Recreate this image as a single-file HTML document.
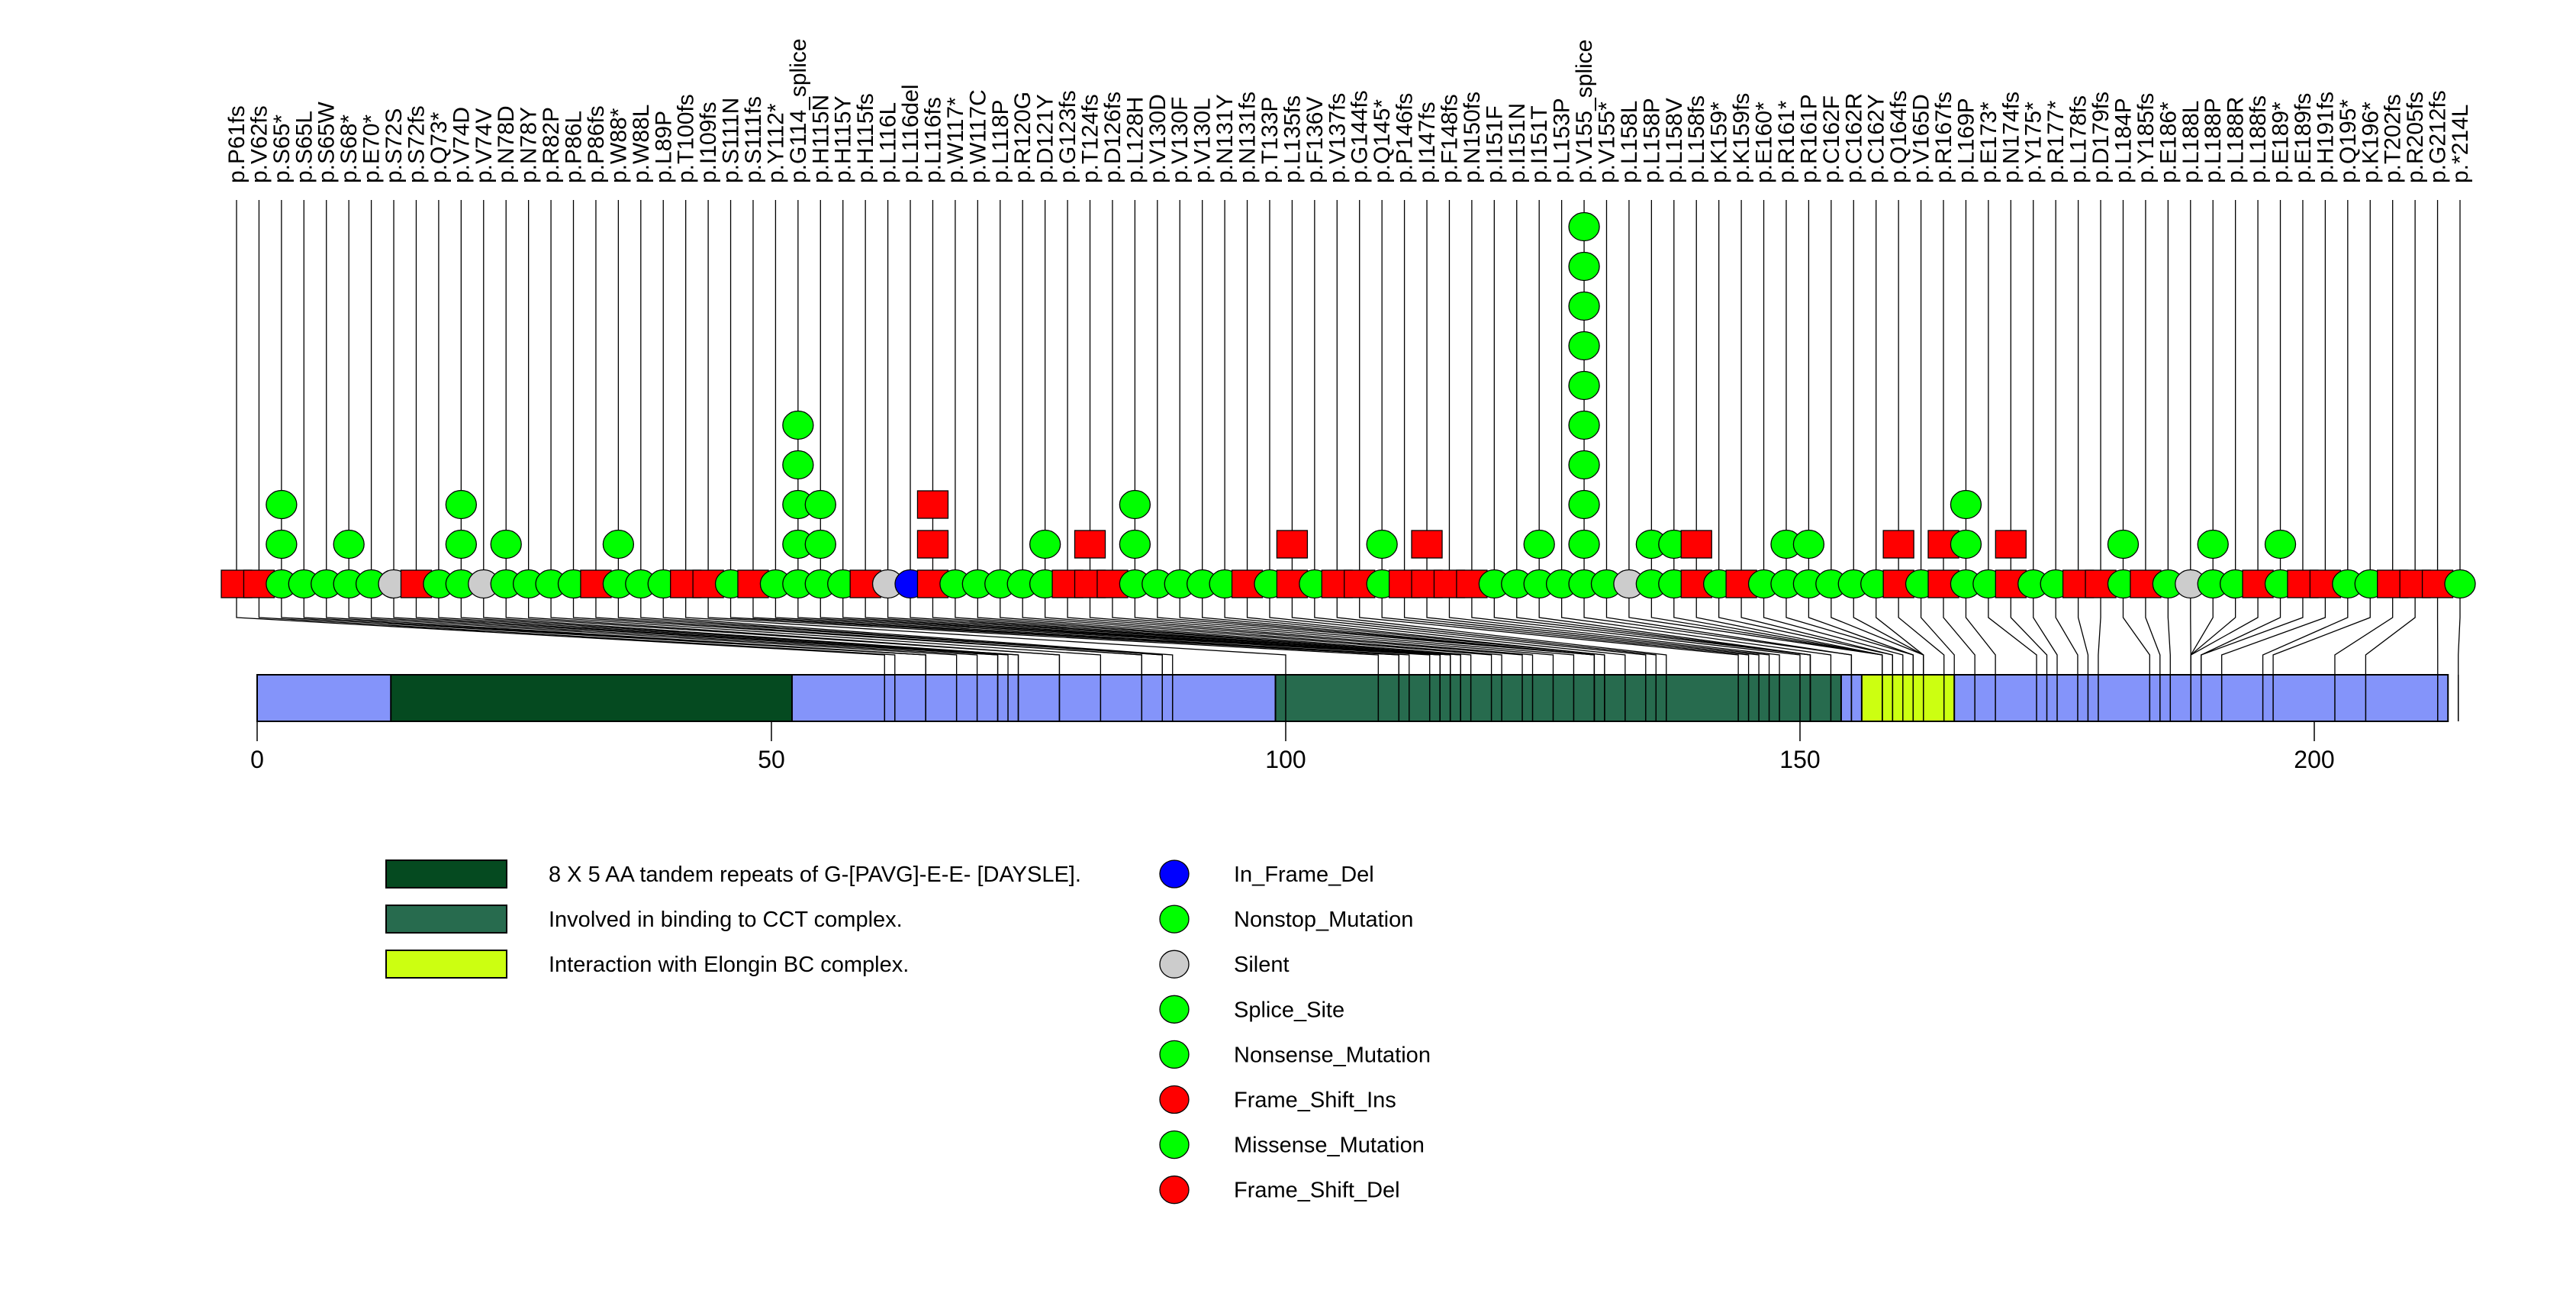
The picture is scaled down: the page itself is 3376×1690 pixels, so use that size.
<!DOCTYPE html>
<html><head><meta charset="utf-8">
<style>html,body{margin:0;padding:0;background:#fff;}svg{display:block;}</style>
</head><body>
<svg id="chart" xmlns="http://www.w3.org/2000/svg" width="3376" height="1690" viewBox="0 0 3376 1690" font-family="Liberation Sans, sans-serif">
<g id="conn"></g>
<g id="domain"></g>
<g id="axis"></g>
<g id="marks"></g>
<g id="labels"></g>
<g font-size="29">
<rect x="506" y="1127" width="158" height="36" fill="#054A20" stroke="#000" stroke-width="2"/>
<text x="719" y="1155">8 X 5 AA tandem repeats of G-[PAVG]-E-E- [DAYSLE].</text>
<rect x="506" y="1186" width="158" height="36" fill="#276B4E" stroke="#000" stroke-width="2"/>
<text x="719" y="1214">Involved in binding to CCT complex.</text>
<rect x="506" y="1245" width="158" height="36" fill="#CCFF11" stroke="#000" stroke-width="2"/>
<text x="719" y="1273">Interaction with Elongin BC complex.</text>
</g>
<g id="legend2" font-size="29"></g>
</svg>
<script>
const mutationLabels = ["p.P61fs","p.V62fs","p.S65*","p.S65L","p.S65W","p.S68*","p.E70*","p.S72S","p.S72fs","p.Q73*","p.V74D","p.V74V","p.N78D","p.N78Y","p.R82P","p.P86L","p.P86fs","p.W88*","p.W88L","p.L89P","p.T100fs","p.I109fs","p.S111N","p.S111fs","p.Y112*","p.G114_splice","p.H115N","p.H115Y","p.H115fs","p.L116L","p.L116del","p.L116fs","p.W117*","p.W117C","p.L118P","p.R120G","p.D121Y","p.G123fs","p.T124fs","p.D126fs","p.L128H","p.V130D","p.V130F","p.V130L","p.N131Y","p.N131fs","p.T133P","p.L135fs","p.F136V","p.V137fs","p.G144fs","p.Q145*","p.P146fs","p.I147fs","p.F148fs","p.N150fs","p.I151F","p.I151N","p.I151T","p.L153P","p.V155_splice","p.V155*","p.L158L","p.L158P","p.L158V","p.L158fs","p.K159*","p.K159fs","p.E160*","p.R161*","p.R161P","p.C162F","p.C162R","p.C162Y","p.Q164fs","p.V165D","p.R167fs","p.L169P","p.E173*","p.N174fs","p.Y175*","p.R177*","p.L178fs","p.D179fs","p.L184P","p.Y185fs","p.E186*","p.L188L","p.L188P","p.L188R","p.L188fs","p.E189*","p.E189fs","p.H191fs","p.Q195*","p.K196*","p.T202fs","p.R205fs","p.G212fs","p.*214L"];
const mutationCounts = [1,1,3,1,1,2,1,1,1,1,3,1,2,1,1,1,1,2,1,1,1,1,1,1,1,5,3,1,1,1,1,3,1,1,1,1,2,1,2,1,3,1,1,1,1,1,1,2,1,1,1,2,1,2,1,1,1,1,2,1,10,1,1,2,2,2,1,1,1,2,2,1,1,1,2,1,2,3,1,2,1,1,1,1,2,1,1,1,2,1,1,2,1,1,1,1,1,1,1,1];
const domainNames = ["tandem-repeats","cct-binding","elongin-bc"];
const domainStarts = [13,99,156];
const domainEnds = [52,154,165];
const domainColors = ["#054A20","#276B4E","#CCFF11"];
const proteinLength = 213;
const axisTicks = [0,50,100,150,200];
const legendTypes = ["In_Frame_Del","Nonstop_Mutation","Silent","Splice_Site","Nonsense_Mutation","Frame_Shift_Ins","Missense_Mutation","Frame_Shift_Del"];
const legendColors = ["#0000FF","#00FF00","#CCCCCC","#00FF00","#00FF00","#FF0000","#00FF00","#FF0000"];

const NS="http://www.w3.org/2000/svg";
function mk(tag,attrs,parent){const e=document.createElementNS(NS,tag);for(const k in attrs)e.setAttribute(k,attrs[k]);parent.appendChild(e);return e;}
const xPos = p => 337 + p*13.48;
const xLab = i => 310 + i*(3224-310)/(mutationLabels.length-1);
const ROW=765, STEP=52, BAR_T=884, BAR_B=945;
function posOf(l){const m=l.match(/(\d+)/);return +m[1];}
function typeOf(l){
  if(l.endsWith("fs")) return "fs";
  if(l.includes("del")) return "del";
  const m=l.match(/^p\.(.)(\d+)(.)$/);
  if(m && m[1]===m[3]) return "silent";
  return "other";
}
const conn=document.getElementById('conn'),dom=document.getElementById('domain'),ax=document.getElementById('axis'),marks=document.getElementById('marks'),labs=document.getElementById('labels'),lg=document.getElementById('legend2');

let r=mk('rect',{x:xPos(0),y:BAR_T,width:xPos(proteinLength)-xPos(0),height:BAR_B-BAR_T,fill:'#8494FA',stroke:'#000','stroke-width':2},dom);


domainStarts.forEach((s,k)=>{
  const d=mk('rect',{x:xPos(s),y:BAR_T,width:xPos(domainEnds[k])-xPos(s),height:BAR_B-BAR_T,fill:domainColors[k],stroke:'#000','stroke-width':2},dom);
  
  
});

mutationLabels.forEach((l,i)=>{
  const xl=xLab(i), xp=xPos(posOf(l));
  const pl=mk('polyline',{points:`${xl},262 ${xl},809 ${xp},858 ${xp},${BAR_B}`,fill:'none',stroke:'#000','stroke-width':1.3},conn);
  
  
});
mutationLabels.forEach((l)=>{
  const xp=xPos(posOf(l));
  const ln=mk('line',{x1:xp,y1:BAR_T,x2:xp,y2:BAR_B,stroke:'#000','stroke-width':1.5},dom);
  
  
});

axisTicks.forEach(t=>{
  const g=mk('g',{},ax);
  
  
  mk('line',{x1:xPos(t),y1:BAR_B,x2:xPos(t),y2:971,stroke:'#000','stroke-width':1.5},g);
  const tx=mk('text',{x:xPos(t),y:1006,'text-anchor':'middle','font-size':32},g);
  tx.textContent=t;
});

function sym(type,x,y,parent){
  let e;
  if(type==='fs') e=mk('rect',{x:x-20,y:y-18,width:40,height:36,fill:'#FF0000',stroke:'#000','stroke-width':1.3},parent);
  else e=mk('ellipse',{cx:x,cy:y,rx:20,ry:18.5,fill:type==='del'?'#0000FF':type==='silent'?'#CCCCCC':'#00FF00',stroke:'#000','stroke-width':1.3},parent);
  return e;
}
mutationLabels.forEach((l,i)=>{
  const t=typeOf(l), x=xLab(i);
  for(let c=0;c<mutationCounts[i];c++){
    const e=sym(t,x,ROW-c*STEP,marks);
    
    
  }
  const tx=mk('text',{x:0,y:0,'font-size':30,transform:`translate(${x+10},240) rotate(-90)`},labs);
  
  
  tx.textContent=l;
});

legendTypes.forEach((n,k)=>{
  const y=1145+k*59.1;
  const e=mk('ellipse',{cx:1539,cy:y,rx:19,ry:18,fill:legendColors[k],stroke:'#000','stroke-width':1.3},lg);
  
  
  const tx=mk('text',{x:1617,y:y+10},lg);
  
  
  tx.textContent=n;
});
</script>
</body></html>
